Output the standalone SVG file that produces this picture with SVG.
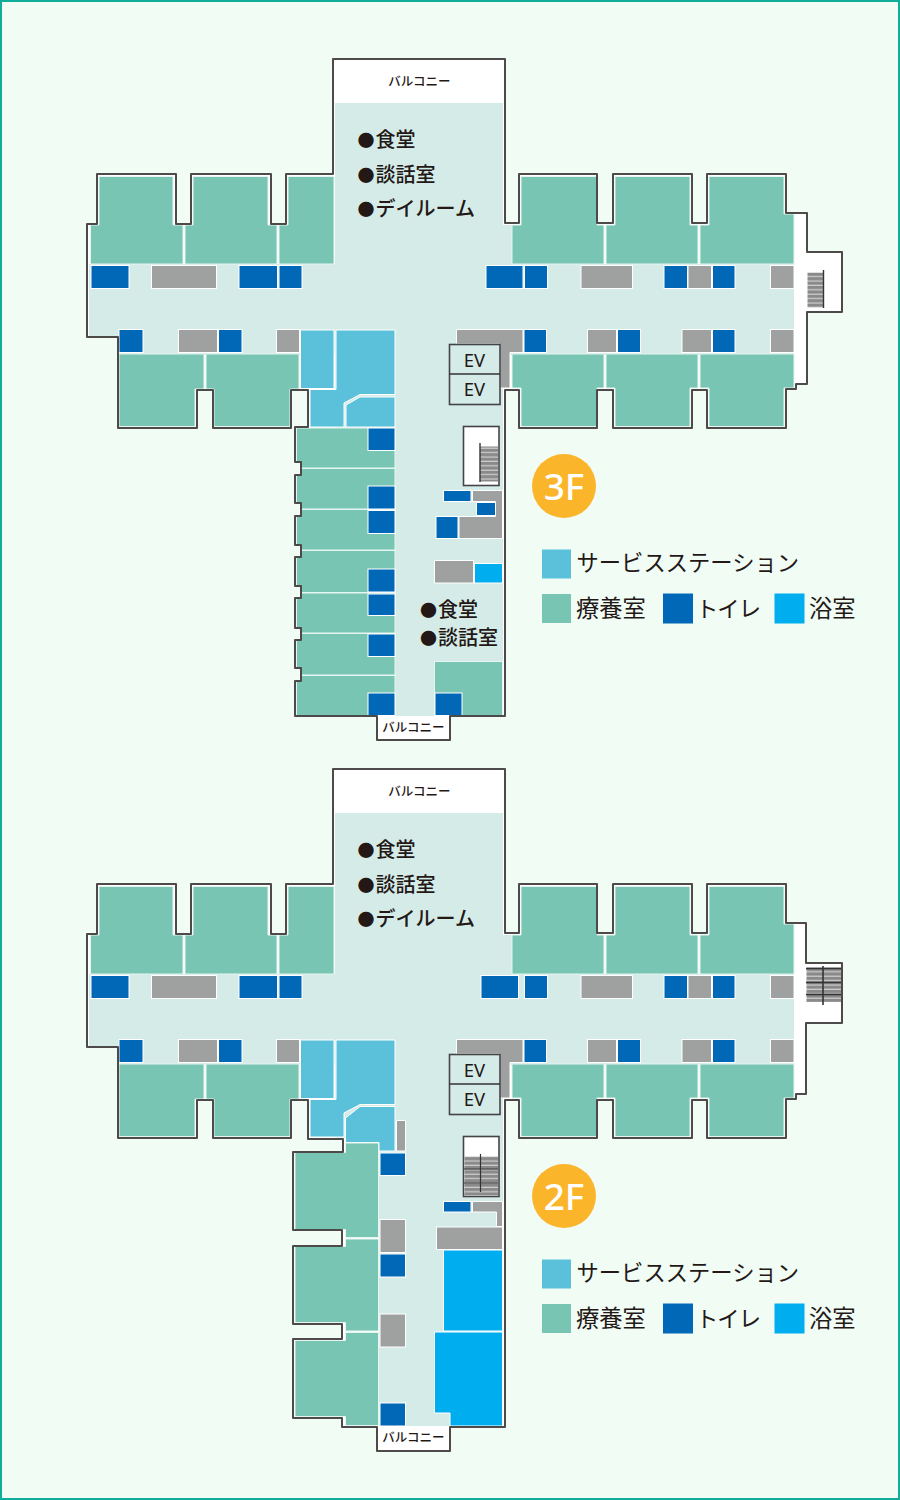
<svg xmlns="http://www.w3.org/2000/svg" xmlns:xlink="http://www.w3.org/1999/xlink" width="900" height="1500" viewBox="0 0 900 1500">
<style>
.floor{fill:#d5ebe8}
.room{fill:#78c5b3;stroke:#e6f5f1;stroke-width:1}
.wc{fill:#0068b7;stroke:#fff;stroke-width:1}
.gray{fill:#9fa0a0;stroke:#fff;stroke-width:1}
.svc{fill:#5bc0da;stroke:#fff;stroke-width:1}
.bath{fill:#00aeef;stroke:#fff;stroke-width:1}
.wall{fill:none;stroke:#4f4a4a;stroke-width:2;stroke-linejoin:round}
.base{fill:#fff}
.box{fill:#fff;stroke:#444;stroke-width:1.6}
.ev{fill:#d5ebe8;stroke:#444;stroke-width:1.6}
.t{font-family:"Noto Sans CJK JP","Noto Sans",sans-serif;fill:#231815}
.lbl{font-size:20px;font-weight:500}
.dot{font-size:17px}
.bal{font-size:12.5px;font-weight:500;text-anchor:middle}
.evt{font-family:"Noto Sans",sans-serif;font-size:18.5px;text-anchor:middle;fill:#231815}
.leg{font-size:22.3px}
.kj{font-size:23.3px}
.fl{font-family:"Noto Sans",sans-serif;font-size:37px;font-weight:500;fill:#fff;text-anchor:middle}
.line{stroke:#333;fill:none}
</style>
<defs>
<pattern id="steps" patternUnits="userSpaceOnUse" width="10" height="4.4"><rect width="10" height="4.4" fill="#8a8a8a"/><rect y="3.2" width="10" height="1.2" fill="#cfcfcf"/></pattern>
<g id="cross">
<rect class="floor" x="335" y="103" width="168" height="122"/>
<rect class="floor" x="335" y="225" width="177" height="40"/>
<rect class="floor" x="89" y="264" width="705" height="74"/>
<rect class="floor" x="119" y="338" width="675" height="17"/>
<rect class="floor" x="335" y="338" width="168" height="90"/>
<polygon class="room" points="99,176.500 173,176.500 173,225 183,225 183,264 90.500,264 90.500,225 99,225"/>
<polygon class="room" points="193,176.500 268,176.500 268,225 277,225 277,264 185,264 185,225 193,225"/>
<polygon class="room" points="288,176.500 334,176.500 334,264 279,264 279,225 288,225"/>
<polygon class="room" points="521,176.500 597,176.500 597,225 604,225 604,264 512,264 512,225 521,225"/>
<polygon class="room" points="615,176.500 690,176.500 690,225 698,225 698,264 606,264 606,225 615,225"/>
<polygon class="room" points="709,176.500 784,176.500 784,214 794,214 794,264 700,264 700,225 709,225"/>
<polygon class="room" points="119,354 204,354 204,389 195,389 195,426.500 119,426.500"/>
<polygon class="room" points="206,354 299,354 299,389 290,389 290,426.500 214,426.500 214,389 206,389"/>
<polygon class="room" points="512,354 604,354 604,388 597,388 597,426.500 521,426.500 521,388 512,388"/>
<polygon class="room" points="606,354 698,354 698,388 690,388 690,426.500 615,426.500 615,388 606,388"/>
<polygon class="room" points="700,354 794,354 794,388 784,388 784,426.500 709,426.500 709,388 700,388"/>
<rect class="wc" x="91" y="265.500" width="38" height="23"/>
<rect class="gray" x="151.500" y="265.500" width="65" height="23"/>
<rect class="wc" x="239" y="265.500" width="38.500" height="23"/>
<rect class="wc" x="279" y="265.500" width="23" height="23"/>
<rect class="wc" x="119" y="329.500" width="24" height="23"/>
<rect class="gray" x="178.500" y="329.500" width="39" height="23"/>
<rect class="wc" x="218.500" y="329.500" width="23.500" height="23"/>
<rect class="gray" x="276.500" y="329.500" width="23" height="23"/>
<rect class="svc" x="300.500" y="330" width="33.500" height="58.500"/>
<polygon class="svc" points="336,330 395,330 395,394.500 360,394.500 344,403 344,427 310,427 310,389.500 336,389.500"/>
<polygon class="gray" points="456.500,329.500 523,329.500 523,352.500 510,352.500 510,388 500,388 500,344 456.500,344"/>
<rect class="wc" x="524" y="329.500" width="22.500" height="23"/>
<rect class="gray" x="587.500" y="329.500" width="29" height="23"/>
<rect class="wc" x="617.500" y="329.500" width="23" height="23"/>
<rect class="gray" x="682" y="329.500" width="29.500" height="23"/>
<rect class="wc" x="712.500" y="329.500" width="22.500" height="23"/>
<rect class="gray" x="770.500" y="329.500" width="23.500" height="23"/>
<rect class="wc" x="524.500" y="265.500" width="23" height="23"/>
<rect class="gray" x="581" y="265.500" width="51.500" height="23"/>
<rect class="wc" x="664" y="265.500" width="23.500" height="23"/>
<rect class="gray" x="688" y="265.500" width="23.500" height="23"/>
<rect class="wc" x="712.500" y="265.500" width="22.500" height="23"/>
<rect class="gray" x="770.500" y="265.500" width="23.500" height="23"/>
<rect class="ev" x="449.500" y="344.500" width="50.500" height="60"/>
<line class="line" x1="449.500" y1="374" x2="500" y2="374" stroke-width="1.600"/>
</g>
</defs>
<rect id="background" x="1" y="1" width="898" height="1498" fill="#f1fcf5" stroke="#10ad9a" stroke-width="2"/>

<g id="floor-3F">
<polygon class="base" points="333,59 505,59 505,223 519,223 519,174 597,174 597,223 613,223 613,174 692,174 692,223 707,223 707,174 786,174 786,213 807,213 807,252 842,252 842,312 807,312 807,384 796,384 796,389 786,389 786,428 707,428 707,390 692,390 692,428 613,428 613,390 597,390 597,428 519,428 519,390 505,390 505,716 450,716 450,740 377,740 377,716 295,716 295,427 308,427 308,390 291,390 291,428 213,428 213,390 197,390 197,428 118,428 118,337 87,337 87,224 97,224 97,174 176,174 176,224 191,224 191,174 271,174 271,224 286,224 286,174 333,174"/>
<rect class="floor" x="335" y="428" width="168" height="288"/>
<use xlink:href="#cross" href="#cross"/>
<rect class="wc" x="486" y="265.500" width="37" height="23"/>
<polygon class="svc" points="346,405 360,397 395,397 395,427 346,427"/>
<rect class="room" x="296.500" y="428" width="98.500" height="40"/>
<rect class="room" x="296.500" y="468.500" width="98.500" height="40.500"/>
<rect class="room" x="296.500" y="509.500" width="98.500" height="40.500"/>
<rect class="room" x="296.500" y="550.500" width="98.500" height="42"/>
<rect class="room" x="296.500" y="593" width="98.500" height="40"/>
<rect class="room" x="296.500" y="633.500" width="98.500" height="41.500"/>
<rect class="room" x="296.500" y="675.500" width="98.500" height="40"/>
<g fill="#f1fcf5">
<rect x="294" y="462" width="7" height="13"/><rect x="294" y="503" width="7" height="13"/><rect x="294" y="545" width="7" height="12"/><rect x="294" y="586" width="7" height="12"/><rect x="294" y="628" width="7" height="12"/><rect x="294" y="668" width="7" height="13"/>
</g>
<rect class="wc" x="368" y="428" width="27" height="22.500"/>
<rect class="wc" x="368" y="486" width="27" height="23"/>
<rect class="wc" x="368" y="510.500" width="27" height="23"/>
<rect class="wc" x="368" y="569" width="27" height="23"/>
<rect class="wc" x="368" y="594" width="27" height="21.500"/>
<rect class="wc" x="368" y="634" width="27" height="22.500"/>
<rect class="wc" x="368" y="693" width="27" height="22.500"/>
<rect class="box" x="463.500" y="426.500" width="35.500" height="59"/>
<rect x="480" y="446.500" width="18" height="35" fill="url(#steps)"/>
<line class="line" x1="480" y1="443" x2="480" y2="482" stroke-width="1.400"/>
<rect class="wc" x="443.500" y="490.500" width="27.500" height="11"/>
<polygon class="gray" points="472.500,490.500 502.500,490.500 502.500,538.500 459,538.500 459,516.500 495.500,516.500 495.500,501.500 472.500,501.500"/>
<rect class="wc" x="476.500" y="502.500" width="19" height="13"/>
<rect class="wc" x="436" y="516.500" width="22" height="22"/>
<rect class="gray" x="434.500" y="560.500" width="39" height="22.500"/>
<rect class="bath" x="474.500" y="563.500" width="28" height="19.500"/>
<rect class="room" x="434.500" y="661.500" width="68" height="54"/>
<rect class="wc" x="435" y="693" width="27" height="22.500"/>
<rect x="807.500" y="272.500" width="16" height="35" fill="url(#steps)"/>
<line class="line" x1="823.500" y1="270" x2="823.500" y2="308" stroke-width="1.400"/>
<polygon class="wall" points="333,59 505,59 505,223 519,223 519,174 597,174 597,223 613,223 613,174 692,174 692,223 707,223 707,174 786,174 786,213 807,213 807,252 842,252 842,312 807,312 807,384 796,384 796,389 786,389 786,428 707,428 707,390 692,390 692,428 613,428 613,390 597,390 597,428 519,428 519,390 505,390 505,716 450,716 450,740 377,740 377,716 295,716 295,681 301,681 301,668 295,668 295,640 301,640 301,628 295,628 295,598 301,598 301,586 295,586 295,557 301,557 301,545 295,545 295,516 301,516 301,503 295,503 295,475 301,475 301,462 295,462 295,427 308,427 308,390 291,390 291,428 213,428 213,390 197,390 197,428 118,428 118,337 87,337 87,224 97,224 97,174 176,174 176,224 191,224 191,174 271,174 271,224 286,224 286,174 333,174"/>
<text class="t bal" x="419.500" y="86">バルコニー</text>
<text class="t lbl" x="357.500" y="147"><tspan class="dot">●</tspan><tspan dx="1">食堂</tspan></text>
<text class="t lbl" x="357.500" y="181.500"><tspan class="dot">●</tspan><tspan dx="1">談話室</tspan></text>
<text class="t lbl" x="357.500" y="216"><tspan class="dot">●</tspan><tspan dx="1">デイルーム</tspan></text>
<text class="evt" x="474.500" y="367">EV</text>
<text class="evt" x="474.500" y="396">EV</text>
<text class="t lbl" x="420" y="617"><tspan class="dot">●</tspan><tspan dx="1">食堂</tspan></text>
<text class="t lbl" x="420" y="645"><tspan class="dot">●</tspan><tspan dx="1">談話室</tspan></text>
<text class="t bal" x="413.500" y="732">バルコニー</text>
</g>

<g id="legend-3F">
<circle cx="564" cy="486" r="32" fill="#fbb52b"/>
<text class="fl" x="564" y="500">3F</text>
<rect x="542" y="549.500" width="29" height="29" fill="#5bc0da"/>
<text class="t leg" x="576.500" y="571">サービスステーション</text>
<rect x="542" y="594" width="29" height="29" fill="#78c5b3"/>
<text class="t kj" x="576" y="617">療養室</text>
<rect x="663" y="593.500" width="30" height="30" fill="#0068b7"/>
<text class="t leg" x="696" y="617" textLength="65">トイレ</text>
<rect x="774.500" y="593.500" width="30" height="30" fill="#00aeef"/>
<text class="t kj" x="809" y="617">浴室</text>
</g>

<g id="floor-2F">
<polygon class="base" points="333,769 505,769 505,933 519,933 519,884 597,884 597,933 613,933 613,884 692,884 692,933 707,933 707,884 786,884 786,923 806,923 806,963 842,963 842,1023 806,1023 806,1094 796,1094 796,1099 786,1099 786,1138 707,1138 707,1100 692,1100 692,1138 613,1138 613,1100 597,1100 597,1138 519,1138 519,1100 505,1100 505,1427 450,1427 450,1451 377,1451 377,1427 342,1427 342,1418 293,1418 293,1339 342,1339 342,1324 293,1324 293,1246 342,1246 342,1230 293,1230 293,1152 343,1152 343,1139 308,1139 308,1100 291,1100 291,1138 213,1138 213,1100 197,1100 197,1138 118,1138 118,1047 87,1047 87,934 97,934 97,884 176,884 176,934 191,934 191,884 271,884 271,934 286,934 286,884 333,884"/>
<rect class="floor" x="379" y="1100" width="124" height="326"/>
<use xlink:href="#cross" href="#cross" transform="translate(0 710)"/>
<rect class="wc" x="481" y="975.500" width="37.500" height="23"/>
<polygon class="svc" points="345.500,1118 360,1106.500 395,1106.500 395,1151 379,1151 379,1142.500 345.500,1142.500" />
<rect class="gray" x="396.500" y="1120.500" width="9" height="30.500"/>
<polygon class="room" points="295,1152.500 345.500,1152.500 345.500,1143 378.500,1143 378.500,1237.500 345.500,1237.500 345.500,1229.500 295,1229.500"/>
<polygon class="room" points="295,1246.500 345.500,1246.500 345.500,1239 378.500,1239 378.500,1331 345.500,1331 345.500,1322.500 295,1322.500"/>
<polygon class="room" points="295,1340.500 345.500,1340.500 345.500,1332.500 378.500,1332.500 378.500,1425.500 345.500,1425.500 345.500,1416.500 295,1416.500"/>
<rect class="wc" x="380" y="1153" width="25.500" height="22.500"/>
<rect class="gray" x="380" y="1219.500" width="25.500" height="33"/>
<rect class="wc" x="380" y="1254" width="25.500" height="23"/>
<rect class="gray" x="380" y="1314" width="25.500" height="33"/>
<rect class="wc" x="380" y="1403" width="25.500" height="23"/>
<rect class="box" x="463.500" y="1136.500" width="35.500" height="60"/>
<rect x="464.500" y="1156.500" width="33.500" height="39" fill="url(#steps)"/>
<path class="line" stroke-width="1.200" d="M464 1169H498M464 1183H498M480.500 1154V1192"/>
<rect class="wc" x="443.500" y="1201.500" width="27.500" height="10.500"/>
<polygon class="gray" points="472.500,1201.500 502.500,1201.500 502.500,1226.500 496.500,1226.500 496.500,1212 472.500,1212"/>
<rect class="gray" x="436.500" y="1227" width="66" height="22.500"/>
<rect class="bath" x="443.500" y="1250" width="59" height="81"/>
<polygon class="bath" points="434.500,1332 502.500,1332 502.500,1426 450,1426 450,1413 434.500,1413"/>
<rect x="806.500" y="967" width="35" height="35" fill="url(#steps)"/>
<path class="line" stroke-width="1.600" d="M806 968.500H842M806 982.500H842M806 994.500H842M823 966V1005"/>
<polygon class="wall" points="333,769 505,769 505,933 519,933 519,884 597,884 597,933 613,933 613,884 692,884 692,933 707,933 707,884 786,884 786,923 806,923 806,963 842,963 842,1023 806,1023 806,1094 796,1094 796,1099 786,1099 786,1138 707,1138 707,1100 692,1100 692,1138 613,1138 613,1100 597,1100 597,1138 519,1138 519,1100 505,1100 505,1427 450,1427 450,1451 377,1451 377,1427 342,1427 342,1418 293,1418 293,1339 342,1339 342,1324 293,1324 293,1246 342,1246 342,1230 293,1230 293,1152 343,1152 343,1139 308,1139 308,1100 291,1100 291,1138 213,1138 213,1100 197,1100 197,1138 118,1138 118,1047 87,1047 87,934 97,934 97,884 176,884 176,934 191,934 191,884 271,884 271,934 286,934 286,884 333,884"/>
<text class="t bal" x="419.500" y="796">バルコニー</text>
<text class="t lbl" x="357.500" y="857"><tspan class="dot">●</tspan><tspan dx="1">食堂</tspan></text>
<text class="t lbl" x="357.500" y="891.500"><tspan class="dot">●</tspan><tspan dx="1">談話室</tspan></text>
<text class="t lbl" x="357.500" y="926"><tspan class="dot">●</tspan><tspan dx="1">デイルーム</tspan></text>
<text class="evt" x="474.500" y="1077">EV</text>
<text class="evt" x="474.500" y="1106">EV</text>
<text class="t bal" x="413.500" y="1442">バルコニー</text>
</g>

<g id="legend-2F">
<circle cx="564" cy="1196" r="32" fill="#fbb52b"/>
<text class="fl" x="564" y="1210">2F</text>
<rect x="542" y="1259.500" width="29" height="29" fill="#5bc0da"/>
<text class="t leg" x="576.500" y="1281">サービスステーション</text>
<rect x="542" y="1304" width="29" height="29" fill="#78c5b3"/>
<text class="t kj" x="576" y="1327">療養室</text>
<rect x="663" y="1303.500" width="30" height="30" fill="#0068b7"/>
<text class="t leg" x="696" y="1327" textLength="65">トイレ</text>
<rect x="774.500" y="1303.500" width="30" height="30" fill="#00aeef"/>
<text class="t kj" x="809" y="1327">浴室</text>
</g>
</svg>
